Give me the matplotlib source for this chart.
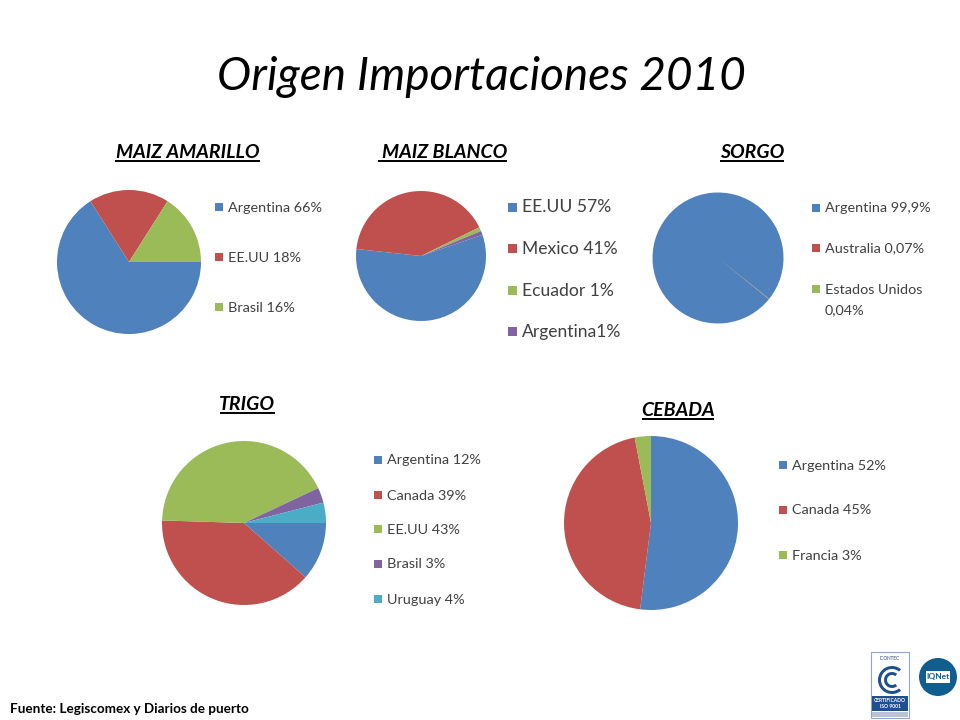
import matplotlib
matplotlib.use("Agg")
import matplotlib.pyplot as plt
from matplotlib.patches import Rectangle, Circle, Wedge

W, H = 960, 720
BLUE, RED, GREEN, PURPLE, CYAN = "#4F81BD", "#C0504D", "#9BBB59", "#8064A2", "#4BACC6"
COLORS = [BLUE, RED, GREEN, PURPLE, CYAN]

TITLE = "Origen Importaciones 2010"
SOURCE = "Fuente: Legiscomex y Diarios de puerto"

amarillo_labels = ["Argentina 66%", "EE.UU 18%", "Brasil 16%"]
amarillo_values = [66, 18, 16]

blanco_labels = ["EE.UU 57%", "Mexico 41%", "Ecuador 1%", "Argentina1%"]
blanco_values = [57, 41, 1, 1]

sorgo_labels = ["Argentina 99,9%", "Australia 0,07%", "Estados Unidos\n0,04%"]
sorgo_values = [99.89, 0.07, 0.04]

trigo_labels = ["Argentina 12%", "Canada 39%", "EE.UU 43%", "Brasil 3%", "Uruguay 4%"]
trigo_values = [11.5, 39, 42.5, 3, 4]

cebada_labels = ["Argentina 52%", "Canada 45%", "Francia 3%"]
cebada_values = [52, 45, 3]

# title, title x centre, title y, underline x-range, values, labels, centre, radius,
# start angle, legend x, legend y's, legend font size
charts = [
    ("MAIZ AMARILLO", 188, 151, (115, 260), amarillo_values, amarillo_labels, (129, 262), 72, 0,
     215, [207, 257, 307], 10.4),
    ("MAIZ BLANCO", 445, 151, (378, 507), blanco_values, blanco_labels, (421, 256), 65, 19,
     508, [207, 248, 290, 331], 12.6),
    ("SORGO", 752, 151, (720, 784), sorgo_values, sorgo_labels, (718, 258), 65.5, -39,
     812, [208, 248, 289], 10.4),
    ("TRIGO", 247, 403, (220, 275), trigo_values, trigo_labels, (244, 523), 82, 0,
     374, [460, 495, 529, 564, 599], 10.4),
    ("CEBADA", 678, 409, (642, 714), cebada_values, cebada_labels, (651, 523), 87, 90,
     779, [465, 510, 555], 10.4),
]

fig = plt.figure(figsize=(W / 100, H / 100), dpi=100, facecolor="white")
plt.rcParams["font.family"] = ["Lato", "DejaVu Sans"]

ov = fig.add_axes([0, 0, 1, 1], zorder=5)
ov.set_xlim(0, W)
ov.set_ylim(H, 0)
ov.axis("off")
ov.patch.set_alpha(0)

ov.text(481, 77, TITLE, fontsize=33, style="italic", ha="center", va="center", color="black")
ov.text(10, 709, SOURCE, fontsize=9.7, weight="bold", ha="left", va="center", color="black")

for name, tx, ty, ul, vals, labels, (cx, cy), r, start, lx, lys, fs in charts:
    ax = fig.add_axes([(cx - r) / W, 1 - (cy + r) / H, 2 * r / W, 2 * r / H])
    ax.pie(vals, colors=COLORS[:len(vals)], startangle=start, counterclock=False,
           radius=1, wedgeprops={"linewidth": 0})
    ax.set_xlim(-1, 1)
    ax.set_ylim(-1, 1)

    ov.text(tx, ty + 1, name, fontsize=14, weight="bold", style="italic", ha="center", va="center")
    ov.plot(ul, [ty + 9.5, ty + 9.5], color="black", lw=1.4, solid_capstyle="butt")

    sq = 9 if fs > 11 else 8
    for i, (lab, ly) in enumerate(zip(labels, lys)):
        ov.add_patch(Rectangle((lx, ly - sq / 2), sq, sq, color=COLORS[i], lw=0))
        lines = lab.split("\n")
        ov.text(lx + sq + 5, ly + 0.5, lines[0], fontsize=fs, ha="left", va="center", color="#404040")
        if len(lines) > 1:
            ov.text(lx + sq + 5, ly + 21, lines[1], fontsize=fs, ha="left", va="center", color="#404040")

# certification logos
ov.add_patch(Rectangle((871, 652), 38, 66, facecolor="white", edgecolor="#8fa6c8", lw=0.8))
ov.text(890, 659, "ICONTEC", fontsize=3.4, ha="center", va="center", color="#33466f")
ov.add_patch(Wedge((892, 680), 14, 50, 310, width=3, color="#1d4f91", lw=0))
ov.add_patch(Wedge((892, 680), 8, 50, 310, width=3, color="#1d4f91", lw=0))
ov.add_patch(Rectangle((872, 696), 36, 15, color="#1d4f91", lw=0))
ov.text(890, 700, "CERTIFICADO", fontsize=3.6, weight="bold", ha="center", va="center", color="white")
ov.text(890, 706, "ISO 9001", fontsize=3.6, weight="bold", ha="center", va="center", color="white")
ov.add_patch(Rectangle((872, 712), 36, 5, color="#b8c3d6", lw=0))

ov.add_patch(Circle((938, 677), 19, color="#0f5e8f", lw=0))
ov.add_patch(Rectangle((926, 671), 24, 12, color="white", lw=0))
ov.text(938, 677, "IQNet", fontsize=6, weight="bold", ha="center", va="center", color="#0f5e8f")

fig.savefig("out.png", dpi=100, facecolor="white")
